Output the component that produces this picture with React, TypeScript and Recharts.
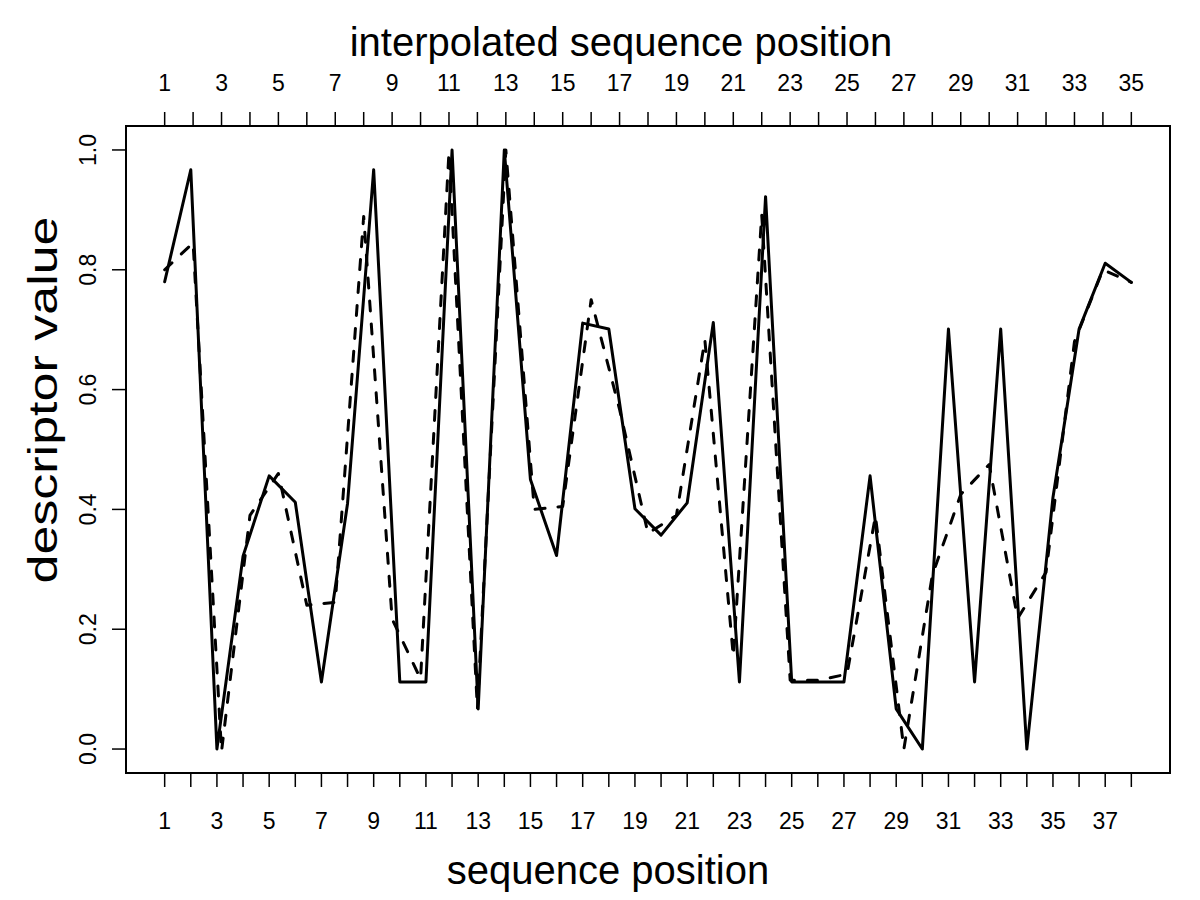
import React from 'react';
import { LineChart, Line, XAxis, YAxis, ReferenceArea } from 'recharts';

// sequence positions (bottom axis) and the descriptor values at each position
const positions = [
  1, 2, 3, 4, 5, 6, 7, 8, 9, 10, 11, 12, 13, 14, 15, 16, 17, 18, 19,
  20, 21, 22, 23, 24, 25, 26, 27, 28, 29, 30, 31, 32, 33, 34, 35, 36, 37, 38,
];
const descriptorValues = [
  0.78, 0.967, 0.0, 0.322, 0.456, 0.412, 0.112, 0.41, 0.967, 0.112,
  0.112, 1.0, 0.067, 1.0, 0.45, 0.323, 0.711, 0.701, 0.401, 0.357,
  0.411, 0.712, 0.112, 0.922, 0.112, 0.112, 0.112, 0.456, 0.067, 0.0,
  0.701, 0.112, 0.701, 0.0, 0.42, 0.701, 0.811, 0.779,
];

// interpolated sequence positions (top axis) and interpolated values
const interpolatedPositions = [
  1, 2, 3, 4, 5, 6, 7, 8, 9, 10, 11, 12, 13, 14, 15, 16, 17, 18,
  19, 20, 21, 22, 23, 24, 25, 26, 27, 28, 29, 30, 31, 32, 33, 34, 35,
];
const interpolatedValues = [
  0.8, 0.845, -0.004, 0.39, 0.46, 0.24, 0.245, 0.889, 0.217, 0.117,
  0.997, 0.067, 1.0, 0.4, 0.405, 0.75, 0.567, 0.36, 0.39, 0.683,
  0.155, 0.892, 0.115, 0.115, 0.125, 0.389, 0.0, 0.29, 0.425, 0.475,
  0.218, 0.295, 0.68, 0.8, 0.779,
];

const yTicks = [0, 0.2, 0.4, 0.6, 0.8, 1.0];

const solidData = positions.map((p, i) => ({ pos: p, value: descriptorValues[i] }));
const dashedData = interpolatedPositions.map((p, i) => ({ ipos: p, ivalue: interpolatedValues[i] }));

// R-style 4% axis extension
const extend = (lo: number, hi: number): [number, number] => {
  const d = (hi - lo) * 0.04;
  return [lo - d, hi + d];
};
const bottomDomain = extend(1, 38);
const topDomain = extend(1, 35);
const yDomain = extend(0, 1);

const FONT = '"Liberation Sans", Arimo, Helvetica, Arial, sans-serif';
const TICK_FONT = 23;
const TITLE_FONT = 40;

const BottomTick = (props: any) => {
  const { x, y, payload } = props;
  const v = payload.value;
  if (v % 2 !== 1) return null;
  return (
    <text x={x} y={y + 34} textAnchor="middle" dominantBaseline="central"
      fontSize={TICK_FONT} fontFamily={FONT} fill="#000">{v}</text>
  );
};

const TopTick = (props: any) => {
  const { x, y, payload } = props;
  const v = payload.value;
  if (v % 2 !== 1) return null;
  return (
    <text x={x} y={y - 29} textAnchor="middle" dominantBaseline="central"
      fontSize={TICK_FONT} fontFamily={FONT} fill="#000">{v}</text>
  );
};

const LeftTick = (props: any) => {
  const { x, y, payload } = props;
  const cx = x - 24;
  return (
    <text x={cx} y={y} transform={`rotate(-90, ${cx}, ${y})`} textAnchor="middle"
      dominantBaseline="central" fontSize={TICK_FONT} fontFamily={FONT} fill="#000">
      {Number(payload.value).toFixed(1)}
    </text>
  );
};

const titleStyle: React.CSSProperties = {
  position: 'absolute',
  fontFamily: FONT,
  fontSize: TITLE_FONT,
  color: '#000',
  whiteSpace: 'nowrap',
  lineHeight: 1,
};

export default function App() {
  return (
    <div style={{ position: 'relative', width: 1184, height: 884, background: '#fff' }}>
      <LineChart
        width={1184}
        height={884}
        margin={{ top: 0, right: 22, bottom: 0, left: 0 }}
      >
        <XAxis
          xAxisId="bottom"
          type="number"
          dataKey="pos"
          domain={bottomDomain}
          allowDataOverflow
          ticks={positions}
          interval={0}
          height={119}
          tickSize={14}
          tickMargin={0}
          axisLine={false}
          tickLine={{ stroke: '#000', strokeWidth: 1.5 }}
          tick={<BottomTick />}
        />
        <XAxis
          xAxisId="top"
          orientation="top"
          type="number"
          dataKey="ipos"
          domain={topDomain}
          allowDataOverflow
          ticks={interpolatedPositions}
          interval={0}
          height={118}
          tickSize={14}
          tickMargin={0}
          axisLine={false}
          tickLine={{ stroke: '#000', strokeWidth: 1.5 }}
          tick={<TopTick />}
        />
        <YAxis
          type="number"
          domain={yDomain}
          allowDataOverflow
          ticks={yTicks}
          interval={0}
          width={118}
          tickSize={14}
          tickMargin={0}
          axisLine={false}
          tickLine={{ stroke: '#000', strokeWidth: 1.5 }}
          tick={<LeftTick />}
        />
        <ReferenceArea
          xAxisId="bottom"
          x1={bottomDomain[0]}
          x2={bottomDomain[1]}
          y1={yDomain[0]}
          y2={yDomain[1]}
          fill="none"
          fillOpacity={0}
          stroke="#000"
          strokeWidth={2}
          ifOverflow="visible"
        />
        <Line
          xAxisId="top"
          data={dashedData}
          dataKey="ivalue"
          type="linear"
          stroke="#000"
          strokeWidth={3}
          strokeDasharray="10 13"
          strokeLinecap="round"
          strokeLinejoin="round"
          dot={false}
          activeDot={false}
          isAnimationActive={false}
        />
        <Line
          xAxisId="bottom"
          data={solidData}
          dataKey="value"
          type="linear"
          stroke="#000"
          strokeWidth={3}
          strokeLinecap="round"
          strokeLinejoin="round"
          dot={false}
          activeDot={false}
          isAnimationActive={false}
        />
      </LineChart>
      <div style={{ ...titleStyle, left: 613, top: 34, transform: 'translate(-50%, -50%)' }}>
        interpolated sequence position
      </div>
      <div style={{ ...titleStyle, left: 600, top: 862, transform: 'translate(-50%, -50%)' }}>
        sequence position
      </div>
      <div style={{ ...titleStyle, left: 35, top: 392, transform: 'translate(-50%, -50%) rotate(-90deg) scaleX(1.3)' }}>
        descriptor value
      </div>
    </div>
  );
}
